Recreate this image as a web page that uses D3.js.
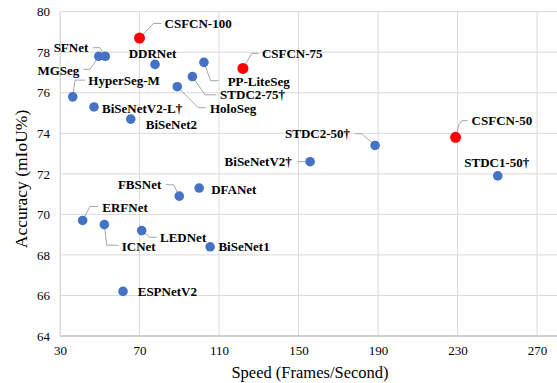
<!DOCTYPE html>
<html>
<head>
<meta charset="utf-8">
<script src="https://cdn.jsdelivr.net/npm/d3@7/dist/d3.min.js"></script>
<style>
  html, body { margin: 0; padding: 0; background: #fff; }
  svg { display: block; }
  text { font-family: "Liberation Serif", "Times New Roman", serif; }
</style>
</head>
<body>
<svg id="chart" width="557" height="383"></svg>
<script>
// ---- Data ----
const methods = ["CSFCN-100","CSFCN-75","CSFCN-50","SFNet","MGSeg","DDRNet","PP-LiteSeg","STDC2-75†","HoloSeg","HyperSeg-M","BiSeNetV2-L†","BiSeNet2","STDC2-50†","BiSeNetV2†","STDC1-50†","DFANet","FBSNet","ERFNet","ICNet","LEDNet","BiSeNet1","ESPNetV2"];
const speeds  = [70, 122, 229, 52.8, 49.5, 77.8, 102.4, 96.6, 89, 36.4, 47.1, 65.6, 188.5, 155.8, 250.2, 100, 90, 41.4, 52.3, 71.1, 105.5, 61.7];
const accuracy = [78.7, 77.2, 73.8, 77.8, 77.8, 77.4, 77.5, 76.8, 76.3, 75.8, 75.3, 74.7, 73.4, 72.6, 71.9, 71.3, 70.9, 69.7, 69.5, 69.2, 68.4, 66.2];
const ours = ["CSFCN-100","CSFCN-75","CSFCN-50"];
const xTicks = [30, 70, 110, 150, 190, 230, 270];
const yTicks = [64, 66, 68, 70, 72, 74, 76, 78, 80];
const xTitle = "Speed (Frames/Second)";
const yTitle = "Accuracy (mIoU%)";

// ---- Label layout (pixel offsets relative to each point) ----
const labelLayout = {
  "CSFCN-100":    {dx: 25,   dy: -14.6, anchor: "start",  path: [[0,0],[14,-14.6],[22,-14.6]]},
  "CSFCN-75":     {dx: 19,   dy: -15,   anchor: "start",  path: [[0,0],[9,-15],[15.5,-15]]},
  "CSFCN-50":     {dx: 16,   dy: -16.7, anchor: "start",  path: [[0,0],[3.3,-12.7],[6.3,-16.7],[12,-16.7]]},
  "SFNet":        {dx: -17,  dy: -8.6,  anchor: "end",    path: [[-12.6,-8.6],[-5.3,-8.6],[0,0]]},
  "MGSeg":        {dx: -19.4,dy: 14,    anchor: "end",    path: [[-15.4,13],[-8.7,13],[0,0]]},
  "DDRNet":       {dx: -2.5, dy: -10.5, anchor: "middle", path: null},
  "PP-LiteSeg":   {dx: 23.7, dy: 19,    anchor: "start",  path: [[0,0],[6.7,18.3],[14.5,18.3]]},
  "STDC2-75†":    {dx: 27.7, dy: 18.3,  anchor: "start",  path: [[0,0],[12.7,18.3],[23.7,18.3]]},
  "HoloSeg":      {dx: 32.7, dy: 21.7,  anchor: "start",  path: [[0,0],[21,21],[28.4,21]]},
  "HyperSeg-M":   {dx: 15.6, dy: -16.7, anchor: "start",  path: [[0,0],[2.3,-16.7],[12.3,-16.7]]},
  "BiSeNetV2-L†": {dx: 8,    dy: 1.5,   anchor: "start",  path: null},
  "BiSeNet2":     {dx: 15,   dy: 5.7,   anchor: "start",  path: null},
  "STDC2-50†":    {dx: -25,  dy: -11.7, anchor: "end",    path: [[-20,-11.7],[-13.3,-11.7],[0,0]]},
  "BiSeNetV2†":   {dx: -18.3,dy: 0,     anchor: "end",    path: [[-12.7,0],[-3.3,0]]},
  "STDC1-50†":    {dx: -1,   dy: -13,   anchor: "middle", path: null},
  "DFANet":       {dx: 12,   dy: 1.7,   anchor: "start",  path: null},
  "FBSNet":       {dx: -18,  dy: -11.4, anchor: "end",    path: [[-13.3,-11.4],[-5.7,-11.4],[0,0]]},
  "ERFNet":       {dx: 19.6, dy: -12.7, anchor: "start",  path: [[0,0],[7.3,-14],[15.6,-14]]},
  "ICNet":        {dx: 17.4, dy: 22.4,  anchor: "start",  path: [[0,0],[2.4,20.7],[14,20.7]]},
  "LEDNet":       {dx: 18.3, dy: 7.3,   anchor: "start",  path: [[0,0],[8.3,6.7],[15,6.7]]},
  "BiSeNet1":     {dx: 8.3,  dy: 0,     anchor: "start",  path: null},
  "ESPNetV2":     {dx: 14.7, dy: 0,     anchor: "start",  path: null}
};

const points = methods.map((m, i) => ({name: m, x: speeds[i], y: accuracy[i], ours: ours.includes(m)}));

const svg = d3.select("#chart");
const x = d3.scaleLinear().domain([30, 280]).range([60, 557]);
const y = d3.scaleLinear().domain([64, 80]).range([336, 11.7]);

// Gridlines
svg.append("g").selectAll("line.h").data(yTicks.slice(1)).join("line")
  .attr("x1", 60).attr("x2", 557)
  .attr("y1", d => y(d)).attr("y2", d => y(d))
  .attr("stroke", "#d9d9d9").attr("stroke-width", 1);
svg.append("g").selectAll("line.v").data(xTicks).join("line")
  .attr("x1", d => x(d)).attr("x2", d => x(d))
  .attr("y1", y(80)).attr("y2", y(64))
  .attr("stroke", "#d9d9d9").attr("stroke-width", 1);

// Axes
const xAxis = d3.axisBottom(x).tickValues(xTicks).tickSize(0).tickPadding(10);
const gx = svg.append("g").attr("transform", `translate(0,${y(64)})`).call(xAxis);
gx.select(".domain").attr("stroke", "#bfbfbf").attr("stroke-width", 1.3).attr("d", `M60,0H557`);
gx.selectAll("text").attr("font-size", 13).attr("fill", "#000")
  .style("font-family", "Liberation Serif, serif");

const yAxis = d3.axisLeft(y).tickValues(yTicks).tickSize(0).tickPadding(10);
const gy = svg.append("g").attr("transform", `translate(60,0)`).call(yAxis);
gy.select(".domain").attr("stroke", "#d9d9d9").attr("stroke-width", 1);
gy.selectAll("text").attr("font-size", 13).attr("fill", "#000")
  .style("font-family", "Liberation Serif, serif");

// Axis titles
svg.append("text").attr("x", 310).attr("y", 378).attr("text-anchor", "middle")
  .attr("font-size", 16.5).attr("fill", "#000").text(xTitle);
svg.append("text").attr("transform", "translate(27,179) rotate(-90)")
  .attr("text-anchor", "middle").attr("font-size", 17.5).attr("fill", "#000").text(yTitle);

// Connectors
const line = d3.line();
svg.append("g").selectAll("path").data(points.filter(p => labelLayout[p.name].path)).join("path")
  .attr("d", p => line(labelLayout[p.name].path.map(([dx, dy]) => [x(p.x) + dx, y(p.y) + dy])))
  .attr("fill", "none").attr("stroke", "#a6a6a6").attr("stroke-width", 1);

// Points
svg.append("g").selectAll("circle").data(points).join("circle")
  .attr("cx", p => x(p.x)).attr("cy", p => y(p.y))
  .attr("r", p => p.ours ? 5.5 : 4.8)
  .attr("fill", p => p.ours ? "#ff0000" : "#4472c4");

// Labels
svg.append("g").selectAll("text").data(points).join("text")
  .attr("x", p => x(p.x) + labelLayout[p.name].dx)
  .attr("y", p => y(p.y) + labelLayout[p.name].dy)
  .attr("dy", "0.35em")
  .attr("text-anchor", p => labelLayout[p.name].anchor)
  .attr("font-size", 13).attr("font-weight", "bold").attr("fill", "#000")
  .text(p => p.name);
</script>
</body>
</html>
